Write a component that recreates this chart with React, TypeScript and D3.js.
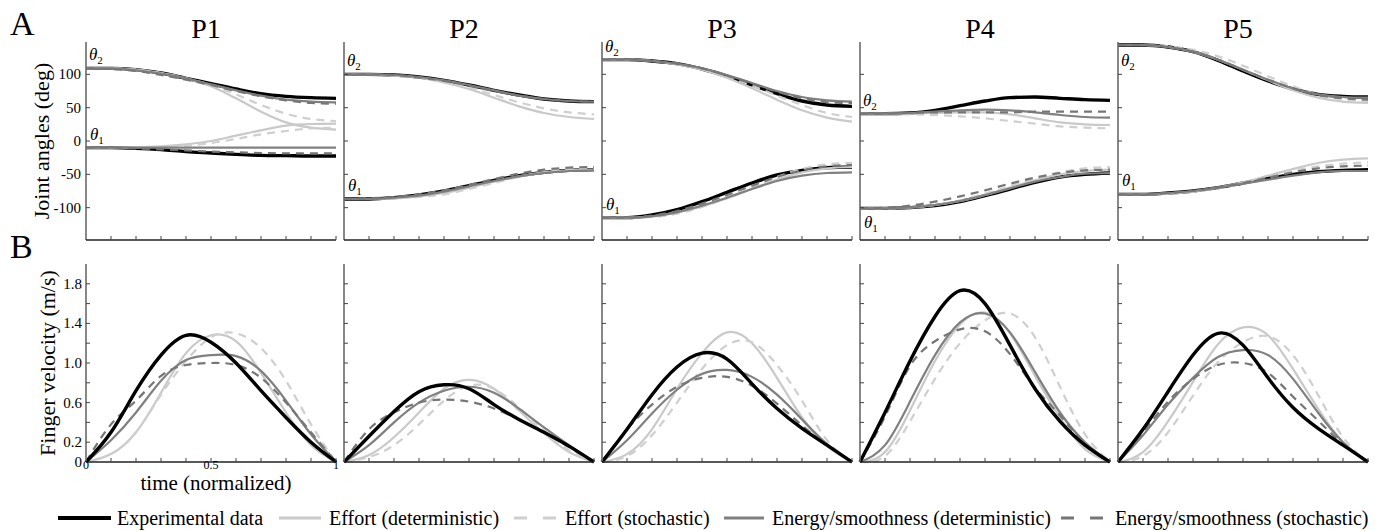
import React from 'react';
import * as d3 from 'd3';

// normalized time samples
const timeSamples = [0, 0.1, 0.2, 0.3, 0.4, 0.5, 0.6, 0.7, 0.8, 0.9, 1];

const participants = ['P1', 'P2', 'P3', 'P4', 'P5'];
const modelNames = [
  'Experimental data',
  'Effort (deterministic)',
  'Effort (stochastic)',
  'Energy/smoothness (deterministic)',
  'Energy/smoothness (stochastic)',
];

// theta2 (deg), one row per participant
const theta2Exp = [
  [109, 109, 107, 102, 94, 86, 78, 71, 67, 65, 64],
  [100, 100, 99, 96, 91, 84, 76, 69, 63, 60, 59],
  [122, 122, 120, 116, 108, 97, 84, 71, 60, 54, 52],
  [41, 41, 42, 46, 53, 60, 65, 66, 64, 62, 61],
  [144, 144, 141, 134, 121, 105, 90, 78, 70, 67, 66],
];
const theta2EffDet = [
  [109, 109, 107, 102, 94, 82, 64, 44, 28, 20, 17],
  [100, 100, 98, 95, 88, 78, 65, 52, 42, 36, 33],
  [122, 122, 120, 115, 107, 95, 79, 62, 46, 35, 29],
  [41, 41, 41, 42, 43, 43, 40, 34, 28, 25, 24],
  [144, 144, 141, 134, 122, 107, 91, 76, 65, 59, 57],
];
const theta2EffSto = [
  [109, 109, 107, 102, 94, 84, 70, 54, 41, 33, 30],
  [100, 100, 98, 95, 89, 80, 69, 58, 49, 43, 40],
  [122, 122, 120, 116, 108, 97, 83, 68, 54, 42, 36],
  [41, 41, 40, 39, 37, 34, 30, 26, 22, 20, 19],
  [144, 144, 142, 137, 127, 113, 97, 82, 70, 63, 60],
];
const theta2EnDet = [
  [109, 109, 106, 101, 94, 85, 76, 68, 62, 59, 58],
  [100, 100, 99, 96, 91, 84, 76, 68, 63, 60, 59],
  [122, 122, 120, 116, 109, 99, 87, 75, 66, 61, 59],
  [41, 41, 42, 44, 46, 47, 46, 43, 39, 36, 35],
  [144, 144, 141, 134, 122, 107, 92, 79, 70, 66, 65],
];
const theta2EnSto = [
  [109, 108, 105, 99, 92, 84, 75, 67, 61, 57, 56],
  [100, 100, 99, 95, 90, 83, 75, 68, 63, 60, 59],
  [122, 122, 120, 116, 109, 98, 86, 74, 64, 58, 57],
  [41, 41, 42, 43, 43, 43, 43, 44, 44, 44, 44],
  [144, 144, 141, 134, 122, 107, 92, 79, 69, 64, 62],
];

// theta1 (deg)
const theta1Exp = [
  [-10, -10, -11, -13, -16, -18, -20, -21.5, -22, -22.5, -22.5],
  [-87, -87, -85, -81, -75, -67, -59, -52, -47, -44, -43],
  [-115, -115, -111, -103, -91, -77, -63, -51, -44, -40, -39],
  [-101, -101, -100, -97, -91, -82, -72, -62, -54, -50, -48],
  [-80, -80, -78, -75, -70, -63, -56, -50, -46, -44, -43],
];
const theta1EffDet = [
  [-10, -10, -9.5, -8, -5, 0, 8, 16, 23, 25.5, 26],
  [-87, -87, -86, -83, -78, -70, -61, -53, -47, -44, -43],
  [-115, -115, -113, -107, -98, -86, -72, -58, -47, -41, -39],
  [-101, -101, -100, -96, -90, -81, -70, -59, -50, -45, -43],
  [-80, -80, -79, -76, -70, -62, -52, -42, -33, -28, -26],
];
const theta1EffSto = [
  [-10, -10, -10, -9, -7, -3, 3, 10, 15, 19, 20],
  [-87, -87, -86, -84, -80, -72, -63, -54, -47, -42, -40],
  [-115, -115, -114, -109, -99, -86, -70, -54, -42, -35, -33],
  [-101, -101, -100, -96, -89, -79, -68, -56, -47, -41, -39],
  [-80, -80, -79, -76, -71, -64, -55, -45, -38, -34, -32],
];
const theta1EnDet = [
  [-10, -10, -10, -10, -10, -10, -10, -10, -10, -10, -10],
  [-87, -87, -85, -82, -76, -68, -60, -53, -48, -45, -44],
  [-115, -115, -113, -107, -97, -85, -72, -60, -52, -48, -47],
  [-101, -101, -100, -96, -90, -81, -71, -61, -54, -49, -48],
  [-80, -80, -78, -75, -70, -64, -58, -52, -47, -45, -45],
];
const theta1EnSto = [
  [-10, -10, -11, -12.5, -14, -16, -17, -18, -18.5, -18.5, -18.5],
  [-87, -86, -84, -80, -74, -66, -57, -49, -43, -40, -39],
  [-115, -115, -112, -105, -94, -81, -67, -54, -44, -38, -36],
  [-101, -100, -97, -91, -83, -74, -64, -55, -48, -44, -43],
  [-80, -80, -78, -75, -70, -63, -55, -47, -41, -38, -37],
];

// finger velocity (m/s)
const velExp = [
  [0, 0.3, 0.72, 1.08, 1.28, 1.21, 1.0, 0.72, 0.45, 0.2, 0],
  [0, 0.26, 0.51, 0.71, 0.78, 0.74, 0.58, 0.43, 0.3, 0.16, 0],
  [0, 0.33, 0.68, 0.96, 1.1, 1.04, 0.79, 0.54, 0.34, 0.17, 0],
  [0, 0.5, 1.02, 1.47, 1.73, 1.6, 1.18, 0.74, 0.41, 0.17, 0],
  [0, 0.33, 0.71, 1.08, 1.3, 1.18, 0.85, 0.55, 0.34, 0.17, 0],
];
const velEffDet = [
  [0, 0.08, 0.3, 0.7, 1.1, 1.28, 1.22, 0.9, 0.5, 0.17, 0],
  [0, 0.07, 0.25, 0.5, 0.74, 0.83, 0.74, 0.52, 0.29, 0.1, 0],
  [0, 0.08, 0.33, 0.74, 1.1, 1.31, 1.2, 0.85, 0.45, 0.16, 0],
  [0, 0.1, 0.52, 1.02, 1.39, 1.51, 1.3, 0.87, 0.45, 0.13, 0],
  [0, 0.1, 0.41, 0.81, 1.19, 1.36, 1.28, 0.94, 0.54, 0.2, 0],
];
const velEffSto = [
  [0, 0.08, 0.3, 0.68, 1.02, 1.26, 1.3, 1.15, 0.82, 0.38, 0],
  [0, 0.05, 0.17, 0.38, 0.62, 0.77, 0.74, 0.55, 0.32, 0.12, 0],
  [0, 0.06, 0.27, 0.6, 0.94, 1.18, 1.21, 0.98, 0.62, 0.22, 0],
  [0, 0.06, 0.41, 0.84, 1.2, 1.43, 1.5, 1.26, 0.76, 0.28, 0],
  [0, 0.06, 0.3, 0.67, 1.01, 1.21, 1.27, 1.08, 0.68, 0.25, 0],
];
const velEnDet = [
  [0, 0.22, 0.5, 0.82, 1.03, 1.08, 1.07, 0.92, 0.62, 0.28, 0],
  [0, 0.17, 0.4, 0.6, 0.72, 0.76, 0.7, 0.54, 0.35, 0.17, 0],
  [0, 0.22, 0.49, 0.73, 0.89, 0.93, 0.86, 0.68, 0.43, 0.18, 0],
  [0, 0.17, 0.61, 1.08, 1.41, 1.5, 1.31, 0.91, 0.5, 0.2, 0],
  [0, 0.27, 0.58, 0.85, 1.06, 1.13, 1.08, 0.84, 0.5, 0.2, 0],
];
const velEnSto = [
  [0, 0.38, 0.62, 0.87, 0.98, 1.0, 0.98, 0.85, 0.6, 0.3, 0],
  [0, 0.33, 0.5, 0.6, 0.63, 0.61, 0.54, 0.43, 0.3, 0.15, 0],
  [0, 0.33, 0.58, 0.76, 0.85, 0.86, 0.77, 0.59, 0.37, 0.17, 0],
  [0, 0.46, 0.97, 1.22, 1.34, 1.32, 1.09, 0.75, 0.47, 0.18, 0],
  [0, 0.3, 0.61, 0.84, 0.98, 1.0, 0.9, 0.66, 0.42, 0.18, 0],
];

const angleTicks = [100, 50, 0, -50, -100];
const velTicks = [0.2, 0.4, 0.6, 0.8, 1.0, 1.2, 1.4, 1.6, 1.8];
const velTickLabels = ['0', '0.2', '0.6', '1.0', '1.4', '1.8'];
const timeTicks = [0.1, 0.2, 0.3, 0.4, 0.5, 0.6, 0.7, 0.8, 0.9, 1];
const timeTickLabels = ['0', '0.5', '1'];
// where the theta labels sit relative to the curve start: [theta2, theta1]
const thetaLabelSide = [
  ['above', 'above'],
  ['above', 'above'],
  ['above', 'above'],
  ['above', 'below'],
  ['below', 'above'],
];

const models = [
  { name: modelNames[0], theta2: theta2Exp, theta1: theta1Exp, vel: velExp },
  { name: modelNames[1], theta2: theta2EffDet, theta1: theta1EffDet, vel: velEffDet },
  { name: modelNames[2], theta2: theta2EffSto, theta1: theta1EffSto, vel: velEffSto },
  { name: modelNames[3], theta2: theta2EnDet, theta1: theta1EnDet, vel: velEnDet },
  { name: modelNames[4], theta2: theta2EnSto, theta1: theta1EnSto, vel: velEnSto },
];

const styles = [
  { color: '#000000', width: 3.4, dash: null },
  { color: '#c9c9c9', width: 2.2, dash: null },
  { color: '#cfcfcf', width: 2.2, dash: '8,6' },
  { color: '#808080', width: 2.2, dash: null },
  { color: '#767676', width: 2.2, dash: '8,6' },
];
// experimental data sits under the model curves in A, on top in B
const drawOrderA = [0, 1, 2, 3, 4];
const drawOrderB = [1, 2, 3, 4, 0];

const W = 1390;
const H = 531;
const FONT = '"Liberation Serif", "Times New Roman", serif';
const panelLeft0 = 86;
const panelStep = 258;
const panelW = 250;
const aTop = 42;
const aBottom = 240;
const bTop = 264;
const bBottom = 462;

const yAngle = d3.scaleLinear().domain([-150, 150]).range([241, 41]);
const yVel = d3.scaleLinear().domain([0, 2]).range([bBottom, bBottom - 198]);

const legendItems = [
  { x0: 58, x1: 111, tx: 117 },
  { x0: 279, x1: 321, tx: 329 },
  { x0: 514, x1: 557, tx: 565 },
  { x0: 724, x1: 764, tx: 772 },
  { x0: 1061, x1: 1106, tx: 1115 },
];

const Theta: React.FC<{ x: number; y: number; sub: string }> = ({ x, y, sub }) => (
  <text x={x} y={y} fontFamily={FONT} fontSize={17} fontStyle="italic" fill="#000">
    θ<tspan fontSize={11} fontStyle="normal" dy={4}>{sub}</tspan>
  </text>
);

const App: React.FC = () => {
  const panels = participants.map((p, i) => {
    const left = panelLeft0 + i * panelStep;
    const x = d3.scaleLinear().domain([0, 1]).range([left, left + panelW]);
    const lineA = d3
      .line<number>()
      .x((_, k) => x(timeSamples[k]))
      .y((d) => yAngle(d))
      .curve(d3.curveMonotoneX);
    const lineB = d3
      .line<number>()
      .x((_, k) => x(timeSamples[k]))
      .y((d) => yVel(d))
      .curve(d3.curveNatural);

    const th2Start = yAngle(theta2Exp[i][0]);
    const th1Start = yAngle(theta1Exp[i][0]);
    const th2y = thetaLabelSide[i][0] === 'above' ? th2Start - 8 : th2Start + 21;
    const th1y = thetaLabelSide[i][1] === 'above' ? th1Start - 8 : th1Start + 20;

    return (
      <g key={p}>
        <text x={left + 120} y={38} textAnchor="middle" fontFamily={FONT} fontSize={28}>
          {p}
        </text>

        {/* panel A: joint angles */}
        {drawOrderA.map((m) => {
          const s = styles[m];
          return (
            <g key={'a' + m}>
              {[models[m].theta2[i], models[m].theta1[i]].map((vals, j) => (
                <path
                  key={j}
                  d={lineA(vals) || ''}
                  fill="none"
                  stroke={s.color}
                  strokeWidth={s.width}
                  strokeDasharray={s.dash || undefined}
                />
              ))}
            </g>
          );
        })}
        <Theta x={left + 3} y={th2y} sub="2" />
        <Theta x={left + 4} y={th1y} sub="1" />
        <line x1={left} x2={left} y1={aTop} y2={aBottom} stroke="#6a6a6a" strokeWidth={1.6} />
        <line x1={left} x2={left + panelW} y1={aBottom} y2={aBottom} stroke="#222" strokeWidth={1.3} />
        {angleTicks.map((t) => (
          <line key={t} x1={left} x2={left + 4} y1={yAngle(t)} y2={yAngle(t)} stroke="#444" strokeWidth={1} />
        ))}
        {timeTicks.map((t) => (
          <line key={t} x1={x(t)} x2={x(t)} y1={aBottom} y2={aBottom - 4} stroke="#444" strokeWidth={1} />
        ))}
        {i === 0 &&
          angleTicks.map((t) => (
            <text key={'l' + t} x={left - 5} y={yAngle(t) + 5} textAnchor="end" fontFamily={FONT} fontSize={15}>
              {t}
            </text>
          ))}

        {/* panel B: finger velocity */}
        {drawOrderB.map((m) => {
          const s = styles[m];
          return (
            <path
              key={'b' + m}
              d={lineB(models[m].vel[i]) || ''}
              fill="none"
              stroke={s.color}
              strokeWidth={s.width}
              strokeDasharray={s.dash || undefined}
            />
          );
        })}
        <line x1={left} x2={left} y1={bTop} y2={bBottom} stroke="#6a6a6a" strokeWidth={1.6} />
        <line x1={left} x2={left + panelW} y1={bBottom} y2={bBottom} stroke="#222" strokeWidth={1.3} />
        {velTicks.map((t) => (
          <line key={t} x1={left} x2={left + 4} y1={yVel(t)} y2={yVel(t)} stroke="#444" strokeWidth={1} />
        ))}
        {timeTicks.map((t) => (
          <line key={t} x1={x(t)} x2={x(t)} y1={bBottom} y2={bBottom - 4} stroke="#444" strokeWidth={1} />
        ))}
        {i === 0 && (
          <g fontFamily={FONT}>
            {velTickLabels.map((l) => (
              <text key={l} x={left - 4} y={yVel(+l) + 5} textAnchor="end" fontSize={15}>
                {l}
              </text>
            ))}
            {timeTickLabels.map((l) => (
              <text key={l} x={x(+l)} y={bBottom + 7} textAnchor="middle" fontSize={12}>
                {l}
              </text>
            ))}
            <text x={left + 130} y={bBottom + 28} textAnchor="middle" fontSize={21}>
              time (normalized)
            </text>
          </g>
        )}
      </g>
    );
  });

  return (
    <svg
      width={W}
      height={H}
      viewBox={`0 0 ${W} ${H}`}
      style={{ position: 'absolute', left: 0, top: 0, background: '#fff' }}
    >
      <rect width={W} height={H} fill="#fff" />
      <text x={10} y={35} fontFamily={FONT} fontSize={34}>A</text>
      <text x={10} y={258} fontFamily={FONT} fontSize={34}>B</text>
      <text
        transform={`translate(49,${(aTop + aBottom) / 2}) rotate(-90)`}
        textAnchor="middle"
        fontFamily={FONT}
        fontSize={22}
      >
        Joint angles (deg)
      </text>
      <text
        transform={`translate(55,${(bTop + bBottom) / 2}) rotate(-90)`}
        textAnchor="middle"
        fontFamily={FONT}
        fontSize={22}
      >
        Finger velocity (m/s)
      </text>
      {panels}
      {legendItems.map((it, k) => (
        <g key={k}>
          <line
            x1={it.x0}
            x2={it.x1}
            y1={518}
            y2={518}
            stroke={styles[k].color}
            strokeWidth={k === 0 ? 4 : 3}
            strokeDasharray={styles[k].dash ? '13,16' : undefined}
          />
          <text x={it.tx} y={525} fontFamily={FONT} fontSize={20}>
            {modelNames[k]}
          </text>
        </g>
      ))}
    </svg>
  );
};

export default App;
